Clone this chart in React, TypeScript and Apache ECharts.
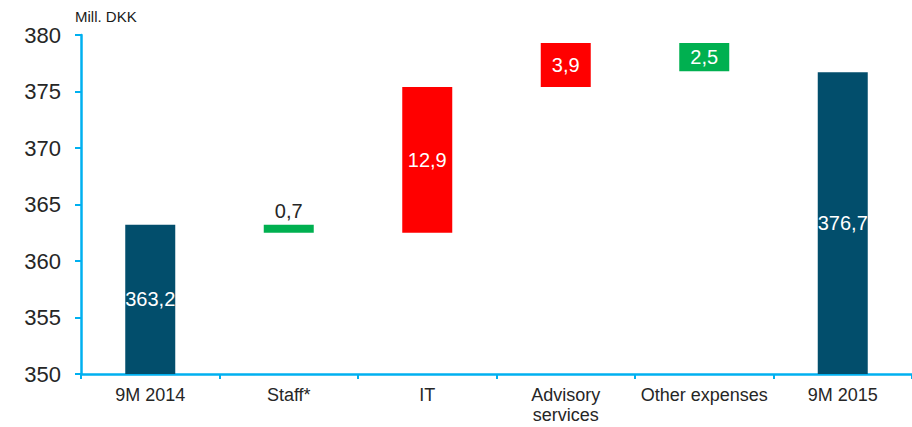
import React, { useEffect, useRef } from "react";
import * as echarts from "echarts";

const categories = ["9M 2014", "Staff*", "IT", "Advisory\nservices", "Other expenses", "9M 2015"];
// signed changes; first and last are totals
const values = [363.2, -0.7, 12.9, 3.9, -2.5, 376.7];
const isTotal = [true, false, false, false, false, true];
const valueLabels = ["363,2", "0,7", "12,9", "3,9", "2,5", "376,7"];
const labelPositions = ["inside", "top", "inside", "inside", "inside", "inside"];
const yTicks = { min: 350, max: 380, interval: 5 };

const BLUE = "#024E6C";
const GREEN = "#00B050";
const RED = "#FF0000";
const FONT = "Liberation Sans";

export default function App() {
  const ref = useRef<HTMLDivElement>(null);
  useEffect(() => {
    if (!ref.current) return;
    const chart = echarts.init(ref.current, undefined, { renderer: "svg" });
    let running = 0;
    const base: number[] = [];
    const heights: number[] = [];
    const colors: string[] = [];
    values.forEach((v, i) => {
      if (isTotal[i]) {
        base.push(0);
        heights.push(v);
        colors.push(BLUE);
        running = v;
      } else {
        const next = running + v;
        base.push(Math.min(running, next));
        heights.push(Math.abs(v));
        colors.push(v < 0 ? GREEN : RED);
        running = next;
      }
    });
    chart.setOption({
      animation: false,
      grid: { left: 81, top: 35, bottom: 53, width: 837 },
      graphic: [
        {
          type: "text",
          left: 75,
          top: 9,
          style: { text: "Mill. DKK", fontSize: 15, fill: "#1a1a1a", fontFamily: FONT },
        },
      ],
      xAxis: {
        type: "category",
        data: categories,
        axisLine: { lineStyle: { color: "#00B0F0", width: 2.5 } },
        axisTick: { show: true, length: 5, lineStyle: { color: "#00B0F0", width: 2 } },
        axisLabel: {
          fontSize: 18,
          color: "#262626",
          fontFamily: FONT,
          margin: 11,
          interval: 0,
          lineHeight: 20,
        },
      },
      yAxis: {
        type: "value",
        min: yTicks.min,
        max: yTicks.max,
        interval: yTicks.interval,
        splitLine: { show: false },
        axisLine: { show: true, lineStyle: { color: "#00B0F0", width: 2.5 } },
        axisTick: { show: true, length: 6, lineStyle: { color: "#00B0F0", width: 2 } },
        axisLabel: { fontSize: 22, color: "#262626", fontFamily: FONT, margin: 20 },
      },
      series: [
        {
          type: "bar",
          stack: "wf",
          data: base,
          barWidth: 50,
          itemStyle: { color: "transparent" },
          silent: true,
        },
        {
          type: "bar",
          stack: "wf",
          barWidth: 50,
          data: heights.map((h, i) => ({
            value: h,
            itemStyle: { color: colors[i] },
            label: {
              show: true,
              position: labelPositions[i],
              formatter: valueLabels[i],
              color: labelPositions[i] === "top" ? "#262626" : "#ffffff",
              fontSize: 20,
              fontFamily: FONT,
              distance: 4,
            },
          })),
        },
      ],
    });
    return () => chart.dispose();
  }, []);
  return (
    <div
      ref={ref}
      style={{ position: "absolute", left: 0, top: 0, width: 912, height: 427 }}
    />
  );
}
